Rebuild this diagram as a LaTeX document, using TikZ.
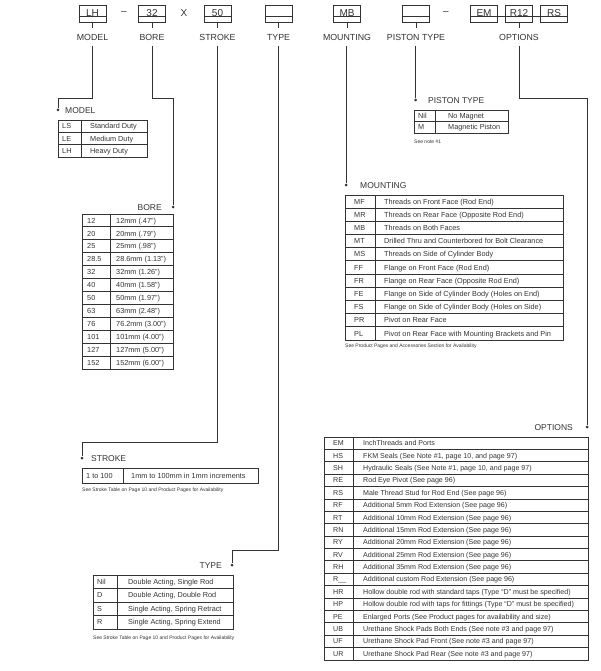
\documentclass[tikz,border=0pt]{standalone}
\usepackage{fontspec}
\setmainfont{Liberation Sans}
\definecolor{ink}{HTML}{333333}
\begin{document}
\begin{tikzpicture}[x=1pt,y=-1pt,
  every node/.style={text=ink},
  codebox/.style={draw=ink,line width=0.8pt,minimum width=27pt,minimum height=17pt,inner sep=0pt,font=\fontsize{10}{10}\selectfont},
  toplbl/.style={font=\fontsize{8.8}{8.8}\selectfont,inner sep=0pt},
  ttl/.style={font=\fontsize{8.5}{8.5}\selectfont,inner sep=0pt},
  cell/.style={inner sep=0pt,anchor=base west,font=\fontsize{7.3}{7.3}\selectfont},
  ocell/.style={inner sep=0pt,anchor=base west,font=\fontsize{7.1}{7.1}\selectfont},
  note/.style={font=\fontsize{5}{5}\selectfont,inner sep=0pt,anchor=west},
  lead/.style={draw=ink,line width=0.8pt},
  tline/.style={draw=ink,line width=0.9pt},
  dot/.style={circle,fill=ink,inner sep=0pt,minimum size=3pt}]
\useasboundingbox (0,0) rectangle (600,671);
\fill[white] (0,0) rectangle (600,671);
% ---------- top row ----------
\node[codebox] (bLH) at (92.5,13.5) {LH};
\node[font=\fontsize{10}{10}\selectfont] (d1) at (124,13) {--};
\node[codebox] (b32) at (152,13.5) {32};
\node[font=\fontsize{10}{10}\selectfont] (xx) at (184,13) {X};
\node[codebox] (b50) at (217.5,13.5) {50};
\node[codebox] (bTY) at (278.5,13.5) {};
\node[codebox] (bMB) at (347,13.5) {MB};
\node[codebox] (bPT) at (416,13.5) {};
\node[font=\fontsize{10}{10}\selectfont] (d2) at (446,13) {--};
\node[codebox] (bEM) at (484,13.5) {EM};
\node[codebox] (bR12) at (519,13.5) {R12};
\node[codebox] (bRS) at (554,13.5) {RS};
\foreach \b in {bLH,b32,b50,bTY,bMB,bPT,bR12}{
  \draw[lead] (\b.south) -- ++(0,6);
}
\foreach \b in {bLH,b32,b50,bTY,bMB,bPT}{
  \draw[lead] ([yshift=6pt]\b.south west) -- ([yshift=6pt]\b.south east);
}
\draw[lead] ([yshift=6pt]bEM.south west) -- ([yshift=6pt]bRS.south east);
\node[toplbl] (lModel) at (92.5,37) {MODEL};
\node[toplbl] (lBore) at (152,37) {BORE};
\node[toplbl] (lStroke) at (217.5,37) {STROKE};
\node[toplbl] (lType) at (278.5,37) {TYPE};
\node[toplbl] (lMount) at (347,37) {MOUNTING};
\node[toplbl] (lPiston) at (416,37) {PISTON TYPE};
\node[toplbl] (lOpt) at (519,37) {OPTIONS};
\coordinate (sModel) at (92.5,46);
\coordinate (sBore) at (152,46);
\coordinate (sStroke) at (217.5,46);
\coordinate (sType) at (278.5,46);
\coordinate (sMount) at (346,46);
\coordinate (sPiston) at (415.5,46);
\coordinate (sOpt) at (519,46);
% ---------- MODEL ----------
\node[dot] (pModel) at (58,110) {};
\node[ttl,anchor=west] (tModel) at (65,110.5) {MODEL};
\draw[lead] (sModel) -- (92.5,98) -| (pModel);
\draw[tline] (58,120) rectangle (147,157);
\draw[tline] (81,120) -- (81,157);
\foreach \c/\d [count=\i from 0] in {LS/Standard Duty,LE/Medium Duty,LH/Heavy Duty}{
  \pgfmathsetmacro\yy{120+12.33*\i}
  \ifnum\i>0 \draw[tline] (58,\yy) -- (147,\yy);\fi
  \node[cell] (m\i a) at (62,\yy+8.8) {\c};
  \node[cell] (m\i b) at (90,\yy+8.8) {\d};
}
% ---------- BORE ----------
\node[dot] (pBore) at (173,207) {};
\node[ttl,anchor=east] (tBore) at (162,207.5) {BORE};
\draw[lead] (sBore) -- (152,98) -| (pBore);
\draw[tline] (82,214) rectangle (173,369);
\draw[tline] (110,214) -- (110,369);
\foreach \c/\d [count=\i from 0] in {12/12mm (.47”),20/20mm (.79”),25/25mm (.98”),28.5/28.6mm (1.13”),32/32mm (1.26”),40/40mm (1.58”),50/50mm (1.97”),63/63mm (2.48”),76/76.2mm (3.00”),101/101mm (4.00”),127/127mm (5.00”),152/152mm (6.00”)}{
  \pgfmathsetmacro\yy{214+12.92*\i}
  \ifnum\i>0 \draw[tline] (82,\yy) -- (173,\yy);\fi
  \node[cell] (r\i a) at (87,\yy+9.1) {\c};
  \node[cell] (r\i b) at (116,\yy+9.1) {\d};
}
% ---------- STROKE ----------
\node[dot] (pStroke) at (82,458) {};
\node[ttl,anchor=west] (tStroke) at (91,458.5) {STROKE};
\draw[lead] (sStroke) -- (217.5,442) -| (pStroke);
\draw[tline] (82,468) rectangle (258,483);
\draw[tline] (123,468) -- (123,483);
\node[cell] (s0a) at (86,478.1) {1 to 100};
\node[cell] (s0b) at (131,478.1) {1mm to 100mm in 1mm increments};
\node[note] (nStroke) at (82,490) {See Stroke Table on Page 10 and Product Pages for Availability};
% ---------- TYPE ----------
\node[dot] (pType) at (232,565) {};
\node[ttl,anchor=east] (tType) at (222,565.5) {TYPE};
\draw[lead] (sType) -- (278.5,550) -| (pType);
\draw[tline] (93,575) rectangle (233,629);
\draw[tline] (117,575) -- (117,629);
\foreach \c/\d [count=\i from 0] in {Nil/{Double Acting, Single Rod},D/{Double Acting, Double Rod},S/{Single Acting, Spring Retract},R/{Single Acting, Spring Extend}}{
  \pgfmathsetmacro\yy{575+13.5*\i}
  \ifnum\i>0 \draw[tline] (93,\yy) -- (233,\yy);\fi
  \node[cell] (y\i a) at (97,\yy+9.4) {\c};
  \node[cell] (y\i b) at (128,\yy+9.4) {\d};
}
\node[note] (nType) at (93,638) {See Stroke Table on Page 10 and Product Pages for Availability};
% ---------- PISTON TYPE ----------
\node[dot] (pPiston) at (415.5,100) {};
\node[ttl,anchor=west] (tPiston) at (428,100.5) {PISTON TYPE};
\draw[lead] (sPiston) -- (pPiston);
\draw[tline] (414,110) rectangle (508,133);
\draw[tline] (435,110) -- (435,133);
\draw[tline] (414,121.5) -- (508,121.5);
\node[cell] (q0a) at (418,118.4) {Nil};
\node[cell] (q0b) at (448,118.4) {No Magnet};
\node[cell] (q1a) at (418,129.9) {M};
\node[cell] (q1b) at (448,129.9) {Magnetic Piston};
\node[note] (nPiston) at (414,142) {See note \#1};
% ---------- MOUNTING ----------
\node[dot] (pMount) at (346,185) {};
\node[ttl,anchor=west] (tMount) at (360,185.5) {MOUNTING};
\draw[lead] (sMount) -- (pMount);
\draw[tline] (345,195) rectangle (563,340);
\draw[tline] (375,195) -- (375,340);
\foreach \c/\d [count=\i from 0] in {MF/Threads on Front Face (Rod End),MR/Threads on Rear Face (Opposite Rod End),MB/Threads on Both Faces,MT/Drilled Thru and Counterbored for Bolt Clearance,MS/Threads on Side of Cylinder Body,FF/Flange on Front Face (Rod End),FR/Flange on Rear Face (Opposite Rod End),FE/Flange on Side of Cylinder Body (Holes on End),FS/Flange on Side of Cylinder Body (Holes on Side),PR/Pivot on Rear Face,PL/Pivot on Rear Face with Mounting Brackets and Pin}{
  \pgfmathsetmacro\yy{195+13.18*\i}
  \ifnum\i>0 \draw[tline] (345,\yy) -- (563,\yy);\fi
  \node[cell] (u\i a) at (354,\yy+9.2) {\c};
  \node[cell] (u\i b) at (384,\yy+9.2) {\d};
}
\node[note] (nMount) at (345,346) {See Product Pages and Accessories Section for Availability};
% ---------- OPTIONS ----------
\node[dot] (pOpt) at (587,427) {};
\node[ttl,anchor=east] (tOpt) at (573,427.5) {OPTIONS};
\draw[lead] (sOpt) -- (519,98) -| (pOpt);
\draw[tline] (324,437) rectangle (588,660);
\draw[tline] (353,437) -- (353,660);
\foreach \c/\d [count=\i from 0] in {EM/InchThreads and Ports,HS/{FKM Seals (See Note \#1, page 10, and page 97)},SH/{Hydraulic Seals (See Note \#1, page 10, and page 97)},RE/Rod Eye Pivot (See page 96),RS/Male Thread Stud for Rod End (See page 96),RF/Additional 5mm Rod Extension (See page 96),RT/Additional 10mm Rod Extension (See page 96),RN/Additional 15mm Rod Extension (See page 96),RY/Additional 20mm Rod Extension (See page 96),RV/Additional 25mm Rod Extension (See page 96),RH/Additional 35mm Rod Extension (See page 96),R\_\_/Additional custom Rod Extension (See page 96),HR/Hollow double rod with standard taps (Type “D” must be specified),HP/Hollow double rod with taps for fittings (Type “D” must be specified),PE/Enlarged Ports (See Product pages for availability and size),UB/Urethane Shock Pads Both Ends (See note \#3 and page 97),UF/Urethane Shock Pad Front (See note \#3 and page 97),UR/Urethane Shock Pad Rear (See note \#3 and page 97)}{
  \pgfmathsetmacro\yy{437+12.39*\i}
  \ifnum\i>0 \draw[tline] (324,\yy) -- (588,\yy);\fi
  \node[ocell] (o\i a) at (333,\yy+8.7) {\c};
  \node[ocell] (o\i b) at (363,\yy+8.7) {\d};
}
\end{tikzpicture}
\end{document}
